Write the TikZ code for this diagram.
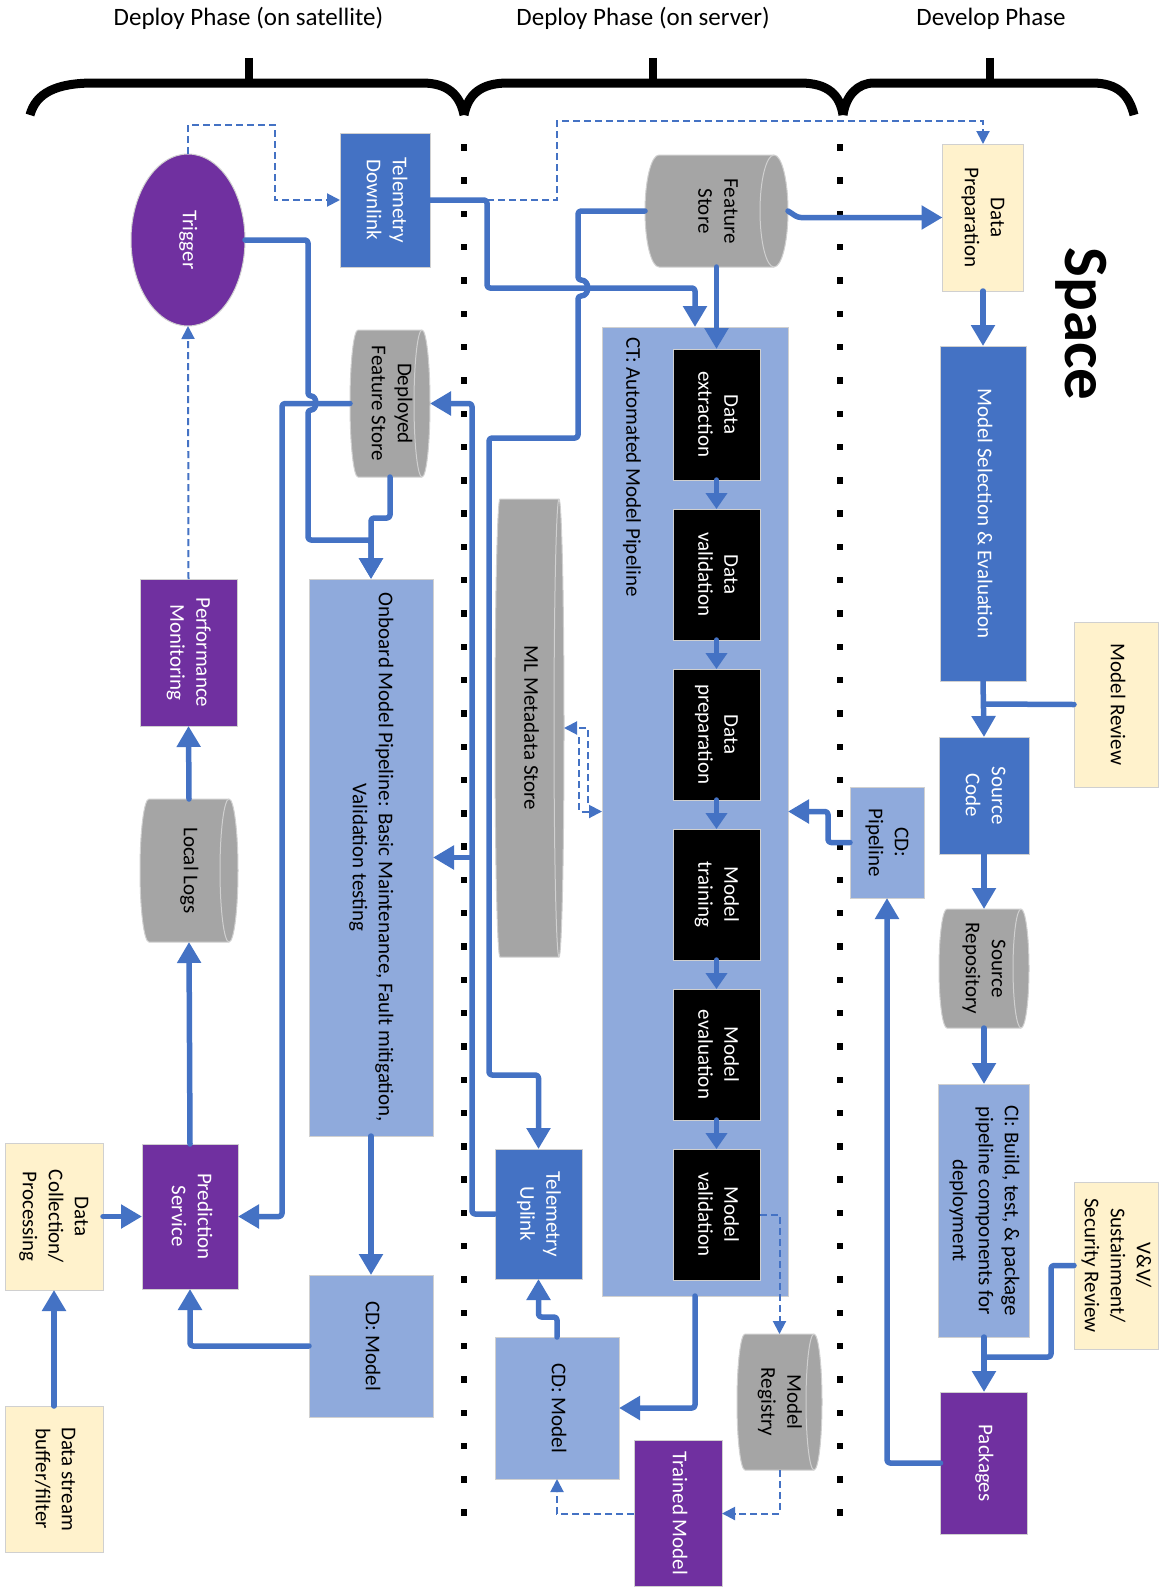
\documentclass[tikz,border=0pt]{standalone}
\usepackage{fontspec}
\setmainfont{Carlito}
\usepackage{graphicx}
\usetikzlibrary{arrows.meta,shapes.geometric}

\definecolor{cpurple}{HTML}{7030A0}
\definecolor{cblue}{HTML}{4472C4}
\definecolor{clight}{HTML}{8FAADC}
\definecolor{cyellow}{HTML}{FFF2CC}
\definecolor{cgray}{HTML}{A5A5A5}
\definecolor{cedge}{HTML}{D0D0D0}

% text set sideways, read from top to bottom
\newcommand\rt[1]{\rotatebox{-90}{\begin{tabular}{@{}c@{}}#1\end{tabular}}}

\tikzset{
  txtbase/.style={font=\fontsize{21}{26}\selectfont, inner sep=0pt, outer sep=0pt},
  box/.style={txtbase, rectangle, draw=cedge, line width=1pt},
  purplebox/.style={box, fill=cpurple, text=white},
  bluebox/.style={box, fill=cblue, text=white},
  lightbox/.style={box, fill=clight},
  yellowbox/.style={box, fill=cyellow},
  blackbox/.style={box, fill=black, text=white},
  conn/.style={draw=cblue, line width=5.5pt, rounded corners=3pt, line cap=round, line join=round},
  arr/.style={conn, -{Triangle[length=21pt,width=23pt]}},
  sarr/.style={conn, -{Triangle[length=16pt,width=21pt]}},
  dconn/.style={draw=cblue, line width=2pt, dash pattern=on 7pt off 4pt},
  darr/.style={dconn, -{Triangle[length=13pt,width=13pt]}},
  cylbody/.style={fill=cgray, draw=cedge, line width=1pt},
  cylrim/.style={draw=cedge, line width=1pt},
  bracestroke/.style={draw=black, line width=9pt},
  phase/.style={font=\fontsize{25}{30}\selectfont, anchor=base, inner sep=0pt},
}

% horizontal cylinder: name, centre x, centre y, width, height, cap radius, text
\newcommand\cyl[7]{%
  \pgfmathsetmacro\CylL{#2-#4/2}%
  \pgfmathsetmacro\CylR{#2+#4/2}%
  \pgfmathsetmacro\CylT{#3-#5/2}%
  \pgfmathsetmacro\CylB{#3+#5/2}%
  \pgfmathsetmacro\CylK{0.5523*#6}%
  \pgfmathsetmacro\CylH{0.5523*#5/2}%
  \draw[cylbody] (\CylL+#6,\CylT) -- (\CylR-#6,\CylT)
    .. controls (\CylR-#6+\CylK,\CylT) and (\CylR,#3-\CylH) .. (\CylR,#3)
    .. controls (\CylR,#3+\CylH) and (\CylR-#6+\CylK,\CylB) .. (\CylR-#6,\CylB)
    -- (\CylL+#6,\CylB)
    .. controls (\CylL+#6-\CylK,\CylB) and (\CylL,#3+\CylH) .. (\CylL,#3)
    .. controls (\CylL,#3-\CylH) and (\CylL+#6-\CylK,\CylT) .. (\CylL+#6,\CylT) -- cycle;
  \draw[cylrim] (\CylR-#6,\CylT)
    .. controls (\CylR-#6-\CylK,\CylT) and (\CylR-2*#6,#3-\CylH) .. (\CylR-2*#6,#3)
    .. controls (\CylR-2*#6,#3+\CylH) and (\CylR-#6-\CylK,\CylB) .. (\CylR-#6,\CylB);
  \node[txtbase, minimum width=#4pt, minimum height=#5pt] (#1) at (#2,#3) {\rt{#7}};
}

\begin{document}
\begin{tikzpicture}[x=1pt, y=-1pt]
\useasboundingbox (0,0) rectangle (1159,1587);
\fill[white] (0,0) rectangle (1159,1587);

% ---------- phase headings and braces ----------
\node[phase] (hsat) at (248.5,25.5) {Deploy Phase (on satellite)};
\node[phase] (hsrv) at (643,25.5) {Deploy Phase (on server)};
\node[phase] (hdev) at (991,25.5) {Develop Phase};

\draw[bracestroke] (30,115) .. controls (36,93) and (56,83) .. (94,83) -- (422,83)
  .. controls (448,83) and (460,95) .. (464,115);
\draw[bracestroke] (464,115) .. controls (468,95) and (480,83) .. (508,83) -- (800,83)
  .. controls (828,83) and (840,95) .. (843,115);
\draw[bracestroke] (843,115) .. controls (846,95) and (858,83) .. (874,83) -- (1092,83)
  .. controls (1118,83) and (1129,95) .. (1134,115);
\draw[black, line width=8pt] (248.5,58) -- (248.5,84);
\draw[black, line width=8pt] (653,58) -- (653,84);
\draw[black, line width=8pt] (990,58) -- (990,84);

% ---------- dotted phase separators ----------
\foreach \k in {0,...,41} {
  \fill (461,{147.3+33.3*\k-3.2}) rectangle (467.4,{147.3+33.3*\k+3.2});
  \fill (837,{147.3+33.3*\k-3.2}) rectangle (843.4,{147.3+33.3*\k+3.2});
}

\node[txtbase, font=\fontsize{63}{70}\selectfont\bfseries] (space) at (1081,324) {\rotatebox{-90}{Space}};

% ---------- deploy phase on satellite ----------
\node[purplebox, ellipse, minimum width=114pt, minimum height=172pt] (trig) at (188,240) {\rt{Trigger}};
\node[bluebox, minimum width=90pt, minimum height=134pt] (tdl) at (385,200) {\rt{Telemetry\\Downlink}};
\cyl{dfs}{390}{403.5}{80}{147}{8}{Deployed\\Feature Store}
\node[purplebox, minimum width=97pt, minimum height=147pt] (pm) at (188.5,652.5) {\rt{Performance\\Monitoring}};
\cyl{ll}{189}{870.5}{98}{143}{9}{Local Logs}
\node[purplebox, minimum width=96pt, minimum height=145pt] (ps) at (190,1216.5) {\rt{Prediction\\Service}};
\node[yellowbox, minimum width=98pt, minimum height=147pt] (dcp) at (54,1216.5) {\rt{Data\\Collection/\\Processing}};
\node[yellowbox, minimum width=98pt, minimum height=146pt] (dsb) at (54,1479) {\rt{Data stream\\buffer/filter}};
\node[lightbox, minimum width=124pt, minimum height=557pt] (omp) at (371,857.5)
  {\rt{Onboard Model Pipeline: Basic Maintenance, Fault mitigation,\\Validation testing}};
\node[lightbox, minimum width=124pt, minimum height=142pt] (cdl) at (371,1346) {\rt{CD: Model}};

% ---------- deploy phase on server ----------
\cyl{fs}{716.5}{211}{143}{112}{14}{Feature\\Store}
\cyl{mlm}{529.5}{728}{69}{458}{5}{ML Metadata Store}
\node[lightbox, minimum width=186pt, minimum height=969pt] (ct) at (695,811.5) {};
\node[txtbase, anchor=north] (ctlabel) at (632,337) {\rotatebox{-90}{CT: Automated Model Pipeline}};
\node[blackbox, minimum width=87pt, minimum height=131pt] (ex) at (716.5,414.5) {\rt{Data\\extraction}};
\node[blackbox, minimum width=87pt, minimum height=131pt] (dv) at (716.5,574.5) {\rt{Data\\validation}};
\node[blackbox, minimum width=87pt, minimum height=131pt] (dpr) at (716.5,734.5) {\rt{Data\\preparation}};
\node[blackbox, minimum width=87pt, minimum height=131pt] (mt) at (716.5,894.5) {\rt{Model\\training}};
\node[blackbox, minimum width=87pt, minimum height=131pt] (me) at (716.5,1054.5) {\rt{Model\\evaluation}};
\node[blackbox, minimum width=87pt, minimum height=131pt] (mv) at (716.5,1214.5) {\rt{Model\\validation}};
\node[bluebox, minimum width=87pt, minimum height=130pt] (tul) at (538.5,1214) {\rt{Telemetry\\Uplink}};
\node[lightbox, minimum width=124pt, minimum height=142pt] (cdm) at (557,1408) {\rt{CD: Model}};
\cyl{mr}{779.5}{1402}{85}{136}{8}{Model\\Registry}
\node[purplebox, minimum width=88pt, minimum height=146pt] (tm) at (678,1513.5) {\rt{Trained Model}};

% ---------- develop phase ----------
\node[yellowbox, minimum width=81pt, minimum height=147pt] (dp) at (983,217.5) {\rt{Data\\Preparation}};
\node[bluebox, minimum width=86pt, minimum height=335pt] (mse) at (983,513.5) {\rt{Model Selection \& Evaluation}};
\node[yellowbox, minimum width=84pt, minimum height=165pt] (mrv) at (1116,704.5) {\rt{Model Review}};
\node[bluebox, minimum width=90pt, minimum height=117pt] (sc) at (984,795.5) {\rt{Source\\Code}};
\node[lightbox, minimum width=74pt, minimum height=111pt] (cdp) at (887,842.5) {\rt{CD:\\Pipeline}};
\cyl{sr}{984}{968.5}{90}{119}{8}{Source\\Repository}
\node[lightbox, minimum width=91pt, minimum height=253pt] (ci) at (984,1210.5)
  {\rt{CI: Build, test, \& package\\pipeline components for\\deployment}};
\node[yellowbox, minimum width=84pt, minimum height=167pt] (vv) at (1116,1265.5) {\rt{V\&V/\\Sustainment/\\Security Review}};
\node[purplebox, minimum width=87pt, minimum height=142pt] (pk) at (984,1463) {\rt{Packages}};

% ---------- connectors: satellite ----------
\draw[darr] (trig.north) |- (275,125) |- (tdl.west);
\draw[darr] (pm.north) -- (trig.south);
\draw[arr] (trig.east) -| (308,396) .. controls (317.5,396) and (317.5,410) .. (308,410)
  |- (371,540) -- (omp.north);
\draw[arr] (dfs.south) |- (371,518) -- (omp.north);
\draw[arr] (dfs.west) -| (282,1216.5) -- (ps.east);
\draw[arr] (ll.north) -- (pm.south);
\draw[arr] (ps.north) -- (ll.south);
\draw[arr] (omp.south) -- (cdl.north);
\draw[arr] (cdl.west) -| (ps.south);
\draw[arr] (dcp.east) -- (ps.west);
\draw[arr] (dsb.north) -- (dcp.south);

% ---------- connectors: server ----------
\coordinate (tdlturn) at (487,200);
\draw[arr] (tdl.east) -- (tdlturn) -- (487,288) -| (ct.north);
\draw[darr] (tdlturn) -| (557,121) -| (dp.north);
\draw[arr] (fs.west) -| (578,280) .. controls (590,280) and (590,296) .. (578,296)
  |- (489,438) -- (489,1075) -| (tul.north);
\draw[arr] (fs.south) -- (ex.north);
\draw[arr] (fs.east) -- (798,217.5) -- (dp.west);
\draw[sarr] (ex.south) -- (dv.north);
\draw[sarr] (dv.south) -- (dpr.north);
\draw[sarr] (dpr.south) -- (mt.north);
\draw[sarr] (mt.south) -- (me.north);
\draw[sarr] (me.south) -- (mv.north);
\draw[arr] (ct.south) |- (cdm.east);
\draw[arr] (cdm.north) |- (538.5,1317) -- (tul.south);
\draw[arr] (tul.west) -| (472,403.5) -- (dfs.east);
\path (omp.east) ++(39,0) coordinate (omj);
\draw[arr] (omj) -- (omp.east);
\coordinate (mla) at (588,803);
\coordinate (mlb) at (579,737);
\draw[darr] (mla) |- (mlm.east);
\draw[darr] (mlb) |- (ct.west);
\draw[darr] (mv.east) -| (mr.north);
\draw[darr] (mr.south) |- (tm.east);
\draw[darr] (tm.west) -| (cdm.south);

% ---------- connectors: develop ----------
\draw[arr] (dp.south) -- (mse.north);
\draw[arr] (mse.south) -- (sc.north);
\path (sc.north) ++(0,-33) coordinate (mrj);
\draw[conn] (mrv.west) -- (mrj);
\draw[arr] (sc.south) -- (sr.north);
\draw[arr] (sr.south) -- (ci.north);
\draw[arr] (ci.south) -- (pk.north);
\path (pk.north) ++(0,-35) coordinate (vvj);
\draw[conn] (vv.west) -| (1051,1357) -- (vvj);
\draw[arr] (pk.west) -| (cdp.south);
\draw[arr] (cdp.west) -- (828,842.5) |- (ct.east);
\end{tikzpicture}
\end{document}
